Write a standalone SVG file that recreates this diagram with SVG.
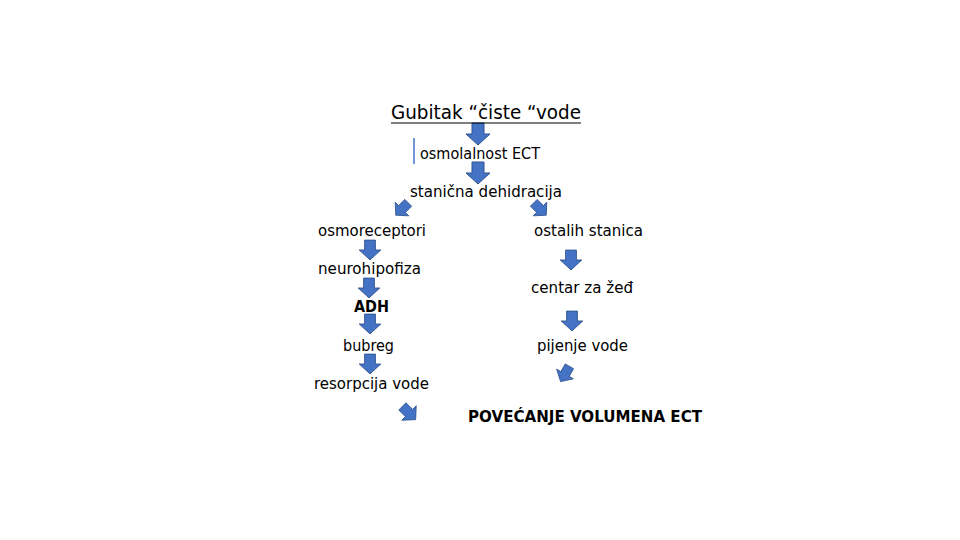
<svg xmlns="http://www.w3.org/2000/svg" xmlns:xlink="http://www.w3.org/1999/xlink" width="960" height="540" viewBox="0 0 960 540">
<style>
.t{font-family:"Comic Sans MS","DejaVu Sans",sans-serif;font-size:15px;fill:#000}
.b{font-weight:bold}
.arr{fill:#4472C4;stroke:#2F528F;stroke-width:1}
</style>
<defs>
<path id="a" class="arr" d="M-6,-11 H6 V0 H12 L0,11 L-12,0 H-6 Z"/>
</defs>
<rect width="960" height="540" fill="#fff"/>
<g id="connectors">
<use xlink:href="#a" transform="translate(478,134)"/>
<use xlink:href="#a" transform="translate(478,173)"/>
<use xlink:href="#a" transform="translate(402,209) rotate(45) scale(0.8)"/>
<use xlink:href="#a" transform="translate(540,209) rotate(-45) scale(0.8)"/>
<use xlink:href="#a" transform="translate(370,250) scale(0.9)"/>
<use xlink:href="#a" transform="translate(369,288) scale(0.9)"/>
<use xlink:href="#a" transform="translate(370,324) scale(0.9)"/>
<use xlink:href="#a" transform="translate(370,364) scale(0.9)"/>
<use xlink:href="#a" transform="translate(409,413) rotate(-45) scale(0.85)"/>
<use xlink:href="#a" transform="translate(571,260) scale(0.9)"/>
<use xlink:href="#a" transform="translate(572,321) scale(0.9)"/>
<use xlink:href="#a" transform="translate(565,374) rotate(30) scale(0.8)"/>
<line x1="414" y1="138" x2="414" y2="164" stroke="#4472C4" stroke-width="1.5"/>
</g>
<g id="n1"><text class="t" x="391" y="119" style="font-size:19px" textLength="190" lengthAdjust="spacingAndGlyphs">Gubitak “čiste “vode</text>
<line x1="391" y1="123" x2="581" y2="123" stroke="#000" stroke-width="1.2"/></g>
<g id="n2"><text class="t" x="420" y="159" textLength="120" lengthAdjust="spacingAndGlyphs">osmolalnost ECT</text></g>
<g id="n3"><text class="t" x="410" y="197" textLength="152" lengthAdjust="spacingAndGlyphs">stanična dehidracija</text></g>
<g id="n4"><text class="t" x="318" y="236" textLength="108" lengthAdjust="spacingAndGlyphs">osmoreceptori</text></g>
<g id="n5"><text class="t" x="534" y="236" textLength="109" lengthAdjust="spacingAndGlyphs">ostalih stanica</text></g>
<g id="n6"><text class="t" x="318" y="274" textLength="103" lengthAdjust="spacingAndGlyphs">neurohipofiza</text></g>
<g id="n7"><text class="t" x="531" y="293" textLength="102" lengthAdjust="spacingAndGlyphs">centar za žeđ</text></g>
<g id="n8"><text class="t b" x="354" y="312" textLength="35" lengthAdjust="spacingAndGlyphs">ADH</text></g>
<g id="n9"><text class="t" x="343" y="351" textLength="51" lengthAdjust="spacingAndGlyphs">bubreg</text></g>
<g id="n10"><text class="t" x="537" y="351" textLength="91" lengthAdjust="spacingAndGlyphs">pijenje vode</text></g>
<g id="n11"><text class="t" x="314" y="389" textLength="115" lengthAdjust="spacingAndGlyphs">resorpcija vode</text></g>
<g id="n12"><text class="t b" x="468" y="422" textLength="234" lengthAdjust="spacingAndGlyphs">POVEĆANJE VOLUMENA ECT</text></g>
</svg>
